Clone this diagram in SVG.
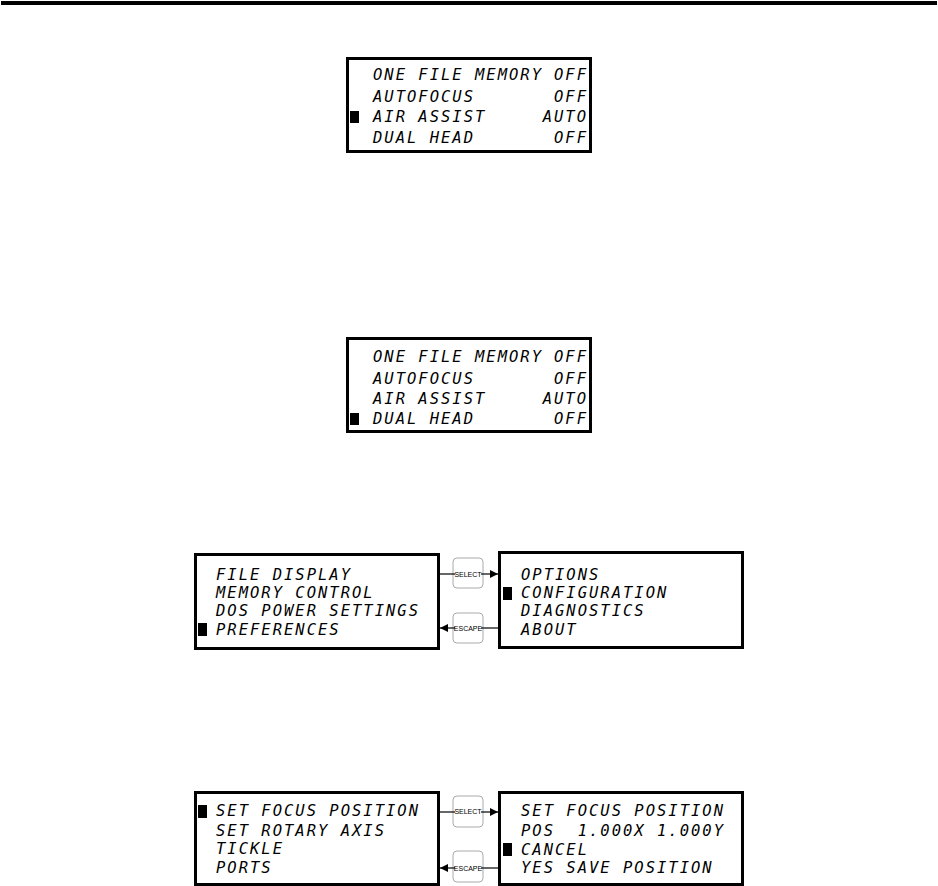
<svg xmlns="http://www.w3.org/2000/svg" width="938" height="886" viewBox="0 0 938 886">
<style>
.box{fill:#fff;stroke:#000;stroke-width:3}
.lcd{font-family:"DejaVu Sans Mono",monospace;font-size:15.5px;font-style:italic;letter-spacing:2px;fill:#000}
.r{text-anchor:end}
.mk{fill:#000}
.btn{fill:#fff;stroke:#aaa;stroke-width:1}
.bt{font-family:"Liberation Sans",Arial,sans-serif;font-size:7px;text-anchor:middle;fill:#000}
.ln{stroke:#000;stroke-width:1.2;fill:none}
</style>
<defs>
<marker id="ah" markerWidth="8" markerHeight="8" refX="8" refY="4" orient="auto" markerUnits="userSpaceOnUse">
<path d="M0,0 L8,4 L0,8 Z" fill="#000"/>
</marker>
</defs>
<rect x="1" y="1" width="936" height="4" fill="#000"/>

<g id="screen1">
<rect class="box" x="347.5" y="58.5" width="243" height="93"/>
<text class="lcd" x="373" y="80">ONE FILE MEMORY</text><text class="lcd r" x="588" y="80">OFF</text>
<text class="lcd" x="373" y="102">AUTOFOCUS</text><text class="lcd r" x="588" y="102">OFF</text>
<rect class="mk" x="350" y="111" width="9" height="12"/>
<text class="lcd" x="373" y="122">AIR ASSIST</text><text class="lcd r" x="588" y="122">AUTO</text>
<text class="lcd" x="373" y="143">DUAL HEAD</text><text class="lcd r" x="588" y="143">OFF</text>
</g>

<g id="screen2">
<rect class="box" x="347.5" y="338.5" width="243" height="93"/>
<text class="lcd" x="373" y="362">ONE FILE MEMORY</text><text class="lcd r" x="588" y="362">OFF</text>
<text class="lcd" x="373" y="384">AUTOFOCUS</text><text class="lcd r" x="588" y="384">OFF</text>
<text class="lcd" x="373" y="404">AIR ASSIST</text><text class="lcd r" x="588" y="404">AUTO</text>
<rect class="mk" x="350" y="413" width="9" height="12"/>
<text class="lcd" x="373" y="424">DUAL HEAD</text><text class="lcd r" x="588" y="424">OFF</text>
</g>

<g id="screen3">
<rect class="box" x="195.5" y="554.5" width="243" height="94"/>
<text class="lcd" x="216" y="580">FILE DISPLAY</text>
<text class="lcd" x="216" y="598">MEMORY CONTROL</text>
<text class="lcd" x="216" y="616">DOS POWER SETTINGS</text>
<rect class="mk" x="198" y="623" width="9" height="13"/>
<text class="lcd" x="216" y="635">PREFERENCES</text>
</g>

<g id="screen4">
<rect class="box" x="499.5" y="552.5" width="243" height="95"/>
<text class="lcd" x="521" y="580">OPTIONS</text>
<rect class="mk" x="503" y="587" width="9" height="13"/>
<text class="lcd" x="521" y="598">CONFIGURATION</text>
<text class="lcd" x="521" y="616">DIAGNOSTICS</text>
<text class="lcd" x="521" y="635">ABOUT</text>
</g>

<g id="screen5">
<rect class="box" x="195.5" y="792.5" width="243" height="92"/>
<rect class="mk" x="198" y="805" width="9" height="13"/>
<text class="lcd" x="216" y="816">SET FOCUS POSITION</text>
<text class="lcd" x="216" y="836">SET ROTARY AXIS</text>
<text class="lcd" x="216" y="854">TICKLE</text>
<text class="lcd" x="216" y="873">PORTS</text>
</g>

<g id="screen6">
<rect class="box" x="499.5" y="792.5" width="243" height="92"/>
<text class="lcd" x="521" y="816">SET FOCUS POSITION</text>
<text class="lcd" x="521" y="836" xml:space="preserve">POS  1.000X 1.000Y</text>
<rect class="mk" x="503" y="843" width="9" height="13"/>
<text class="lcd" x="521" y="855">CANCEL</text>
<text class="lcd" x="521" y="873">YES SAVE POSITION</text>
</g>

<g id="select1">
<rect class="btn" x="453" y="558" width="30" height="30" rx="4"/>
<text class="bt" x="468" y="577">SELECT</text>
</g>
<g id="escape1">
<rect class="btn" x="453" y="613" width="30" height="30" rx="4"/>
<text class="bt" x="468" y="631">ESCAPE</text>
</g>
<g id="select2">
<rect class="btn" x="453" y="796" width="30" height="31" rx="4"/>
<text class="bt" x="468" y="814">SELECT</text>
</g>
<g id="escape2">
<rect class="btn" x="453" y="851" width="30" height="31" rx="4"/>
<text class="bt" x="468" y="871">ESCAPE</text>
</g>

<g id="connectors">
<line class="ln" x1="440" y1="574" x2="455" y2="574"/>
<line class="ln" x1="481" y1="574" x2="498" y2="574" marker-end="url(#ah)"/>
<line class="ln" x1="498" y1="628" x2="481" y2="628"/>
<line class="ln" x1="455" y1="628" x2="440" y2="628" marker-end="url(#ah)"/>
<line class="ln" x1="440" y1="812" x2="455" y2="812"/>
<line class="ln" x1="481" y1="812" x2="498" y2="812" marker-end="url(#ah)"/>
<line class="ln" x1="498" y1="868" x2="481" y2="868"/>
<line class="ln" x1="455" y1="868" x2="440" y2="868" marker-end="url(#ah)"/>
</g>
</svg>
